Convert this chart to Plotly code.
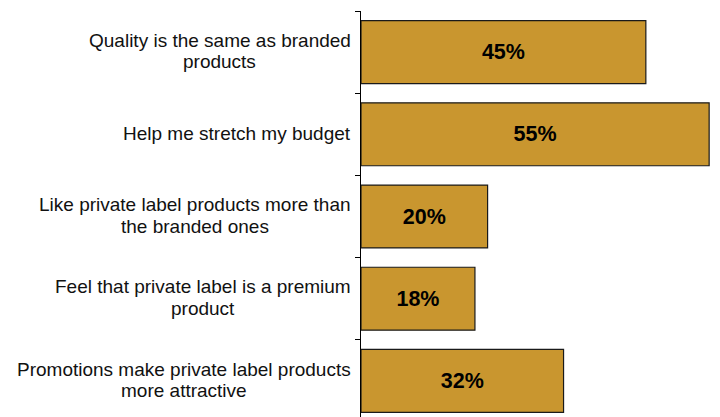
import plotly.graph_objects as go

# Survey statements and share of respondents agreeing (%)
statements = [
    "Quality is the same as branded<br>products",
    "Help me stretch my budget",
    "Like private label products more than<br>the branded ones",
    "Feel that private label is a premium<br>product",
    "Promotions make private label products<br>more attractive",
]
shares = [45, 55, 20, 18, 32]

bar_color = "#C9962F"
font_family = "Arial, 'Liberation Sans', sans-serif"
label_size = 19

# Arial / Liberation Sans advance widths (units per 1000 em) used to centre
# each wrapped line under the longest line of its label
ADVANCE = {
    " ": 278, "a": 556, "b": 556, "c": 500, "d": 556, "e": 556, "f": 278,
    "g": 556, "h": 556, "i": 222, "j": 222, "k": 500, "l": 222, "m": 833,
    "n": 556, "o": 556, "p": 556, "q": 556, "r": 333, "s": 500, "t": 278,
    "u": 556, "v": 500, "w": 722, "x": 500, "y": 500, "z": 500,
    "F": 611, "H": 722, "L": 556, "P": 667, "Q": 778,
}


def text_width(s, size):
    return sum(ADVANCE.get(ch, 556) for ch in s) * size / 1000.0


fig = go.Figure(
    go.Bar(
        x=shares,
        y=statements,
        orientation="h",
        width=0.765,
        marker=dict(color=bar_color, line=dict(color="#1a1a1a", width=1.2)),
        text=[f"{v}%" for v in shares],
        textposition="inside",
        insidetextanchor="middle",
        constraintext="none",
        textfont=dict(family=font_family, size=21.5, color="black", weight="bold"),
        hoverinfo="skip",
    )
)

# Category labels, each line centred within its block left of the axis
annotations = []
line_gap = 21.5
for label in statements:
    lines = label.split("<br>")
    n = len(lines)
    widest = max(text_width(ln, label_size) for ln in lines)
    for i, line in enumerate(lines):
        offset = ((n - 1) / 2 - i) * line_gap + 1
        pad = (widest - text_width(line, label_size)) / 2
        annotations.append(
            dict(
                text=line,
                x=0,
                xref="paper",
                y=label,
                yref="y",
                xanchor="right",
                yanchor="middle",
                xshift=-8 - pad,
                yshift=offset,
                showarrow=False,
                font=dict(family=font_family, size=label_size, color="#111111"),
            )
        )

fig.update_layout(
    width=720,
    height=417,
    margin=dict(l=361, r=0, t=11, b=0),
    paper_bgcolor="white",
    plot_bgcolor="white",
    showlegend=False,
    annotations=annotations,
    xaxis=dict(
        range=[0, 359 / 6.33],
        visible=False,
        fixedrange=True,
    ),
    yaxis=dict(
        type="category",
        categoryorder="array",
        categoryarray=statements,
        range=[-0.5 + 406 / 82.2, -0.5],
        showticklabels=False,
        showline=True,
        linecolor="black",
        linewidth=1,
        ticks="outside",
        tickson="boundaries",
        ticklen=5,
        tickcolor="black",
        tickwidth=1,
        showgrid=False,
        zeroline=False,
        fixedrange=True,
    ),
)

fig.write_html("out.html")
